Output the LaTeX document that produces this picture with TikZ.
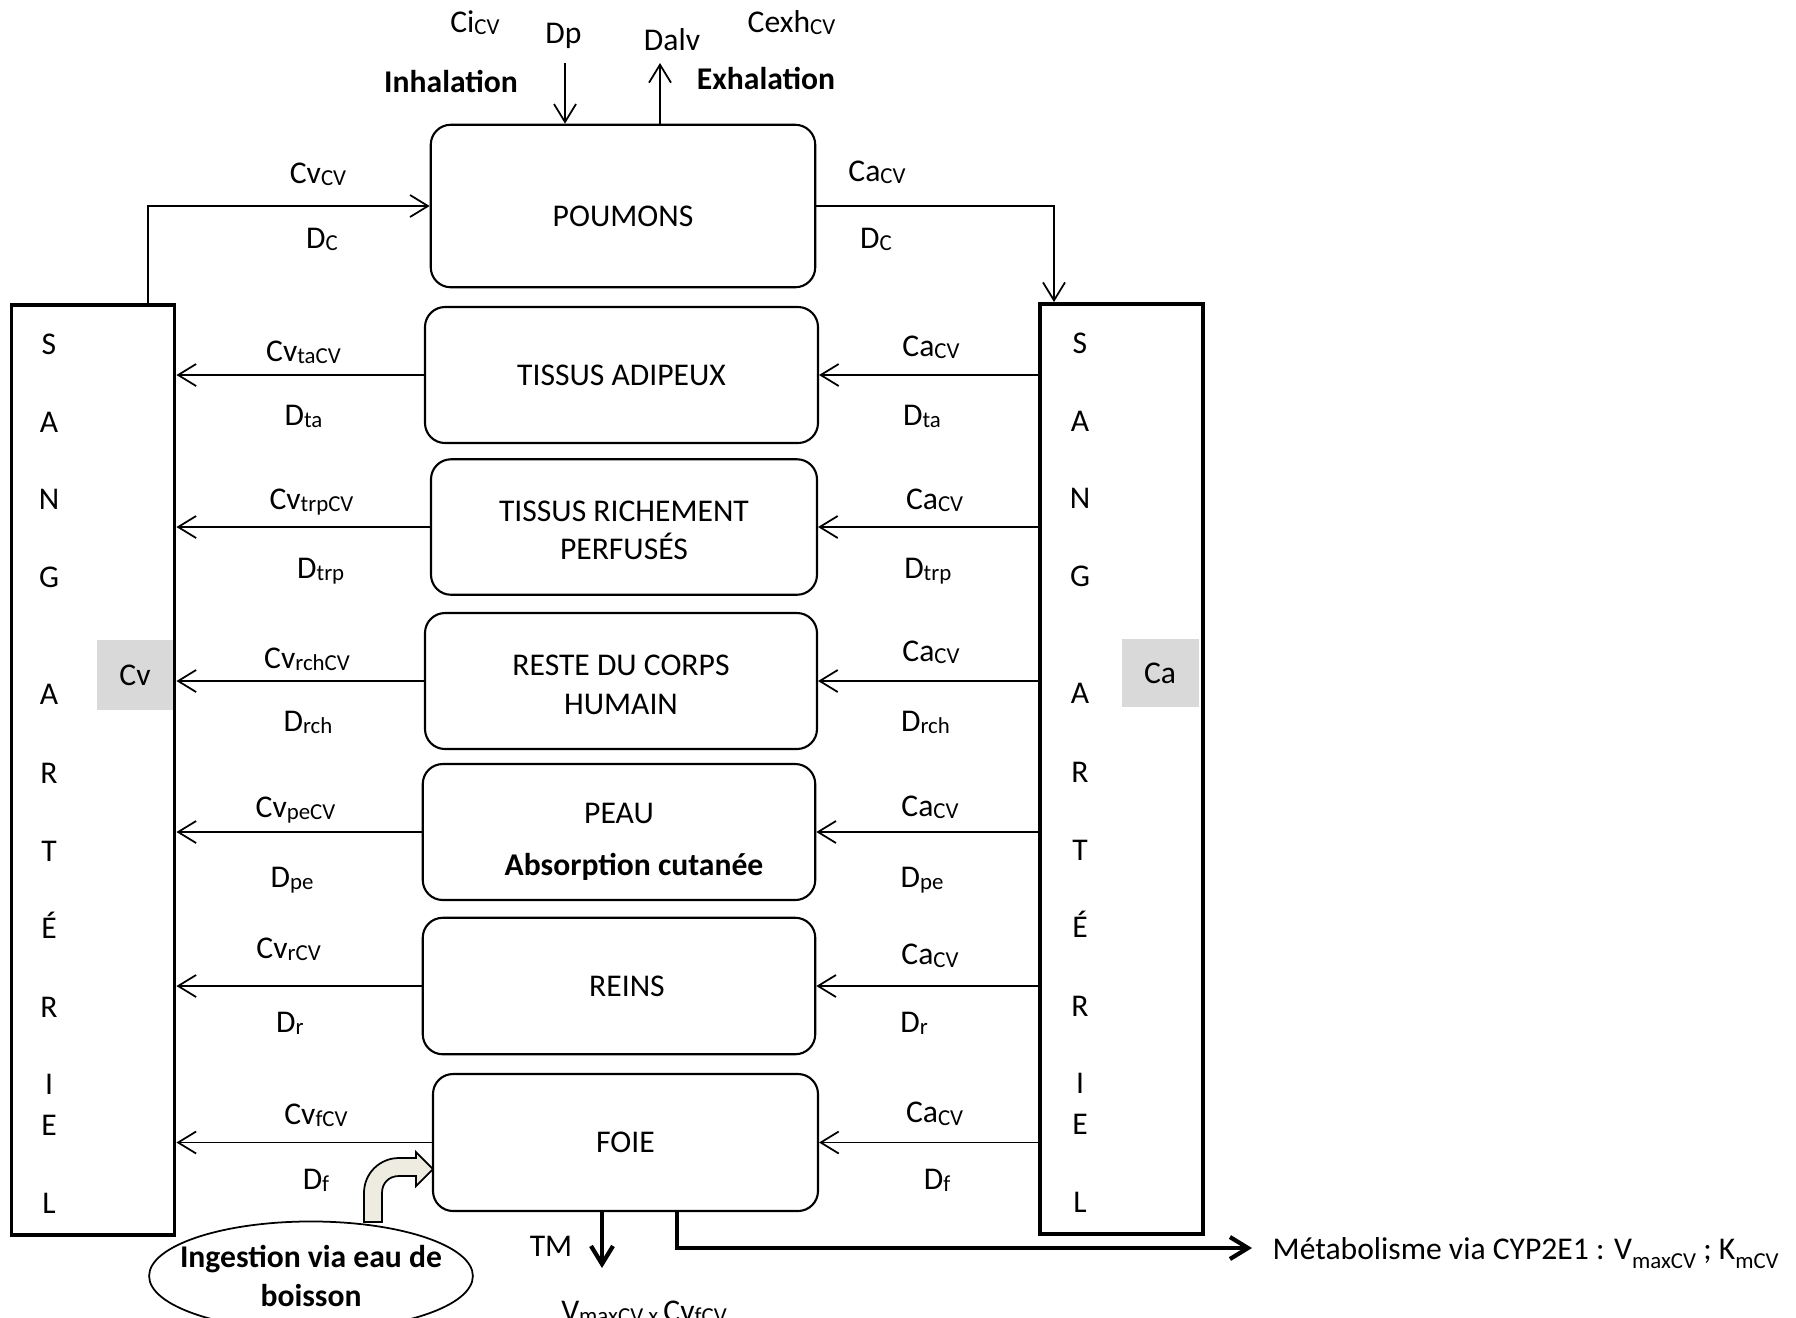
\documentclass[tikz,border=0pt]{standalone}
\usepackage{fontspec}
\setmainfont{Carlito}
\usepackage{tikz}
\usetikzlibrary{positioning,calc,arrows.meta,shapes.geometric}
\usepackage{xcolor}
\definecolor{cellgray}{HTML}{D9D9D9}
\definecolor{pipefill}{HTML}{EEECE1}
\newcommand{\ssub}[1]{\raisebox{-0.6pt}{\fontsize{6.5}{7}\selectfont #1}}
\newcommand{\lsub}[1]{\raisebox{-2.8pt}{\fontsize{6.5}{7}\selectfont #1}}

\begin{document}
\begin{tikzpicture}[x=0.1mm,y=-0.1mm,font=\fontsize{9}{11}\selectfont,
  >={Straight Barb[length=1.8mm,width=2.2mm]},
  organ/.style={draw,rounded corners=2mm,line width=0.6pt,align=center,inner sep=0pt},
  blood/.style={draw,line width=1.1pt,inner sep=0pt,minimum width=16.3mm,minimum height=93mm},
  flow/.style={->,line width=0.5pt},
  heavy/.style={->,line width=1.2pt},
  lbl/.style={inner sep=0pt,text height=1.4ex,text depth=0.25ex},
  bold/.style={lbl,font=\fontsize{9}{11}\selectfont\bfseries}]
\useasboundingbox (0,0) rectangle (1796,1317);

% compartiments sanguins
\node[blood] (sangv) at (93,770) {};
\node[blood] (sanga) at (1121.5,769) {};
\foreach \l/\y [count=\i] in {S/345,A/423,N/500,G/578,A/695,R/774,T/852,É/929,R/1008,I/1085,E/1126,L/1204}{
  \node[lbl] (lv\i) at (49,\y) {\l};
  \node[lbl] (la\i) at (1080,\y-1.5) {\l};
}
\node[fill=cellgray,minimum width=7.6mm,minimum height=7mm] (cv) at (135,675) {Cv};
\node[fill=cellgray,minimum width=7.7mm,minimum height=6.8mm] (ca) at (1160,673) {Ca};

% organes
\node[organ,minimum width=38.45mm,minimum height=16.25mm] (poumons) at (623,206) {\rule{0pt}{4.1mm}POUMONS};
\node[organ,minimum width=39.3mm,minimum height=13.6mm] (adip) at (621.5,375) {TISSUS ADIPEUX};
\node[organ,minimum width=38.6mm,minimum height=13.55mm] (trp) at (624,527) {\rule{0pt}{2.75mm}TISSUS RICHEMENT\\PERFUSÉS};
\node[organ,minimum width=39.2mm,minimum height=13.6mm] (rch) at (621,681) {\rule{0pt}{2.85mm}RESTE DU CORPS\\HUMAIN};
\node[organ,minimum width=39.25mm,minimum height=13.6mm] (peau) at (619,832)
  {\rule{0pt}{4.05mm}PEAU\\[3.7pt]\hspace*{3mm}\textbf{Absorption cutanée}};
\node[organ,minimum width=39.25mm,minimum height=13.65mm] (reins) at (619,986) {\hspace*{1.6mm}REINS};
\node[organ,minimum width=38.5mm,minimum height=13.7mm] (foie) at (625.5,1142.5) {FOIE};

% poumons
\draw[flow] ([xshift=5.5mm]sangv.north) |- (poumons.west);
\draw[flow] (poumons.east) -| ([xshift=-6.75mm]sanga.north);
\node[lbl] (cvcv) at (318,174) {Cv\ssub{CV}};
\node[lbl] (dcv) at (322,239) {D\ssub{C}};
\node[lbl] (cacv) at (877,172) {Ca\ssub{CV}};
\node[lbl] (dca) at (876,239) {D\ssub{C}};

% inhalation / exhalation
\node[lbl] (ci) at (475,23) {Ci\ssub{CV}};
\node[lbl] (dp) at (563.5,34) {Dp};
\node[lbl] (dalv) at (672,41) {Dalv};
\node[lbl] (cexh) at (791.5,23) {Cexh\ssub{CV}};
\node[bold] (inh) at (451,82.5) {Inhalation};
\node[bold] (exh) at (766,80) {Exhalation};
\coordinate (dpin) at (565,63);
\coordinate (dalvout) at (660,63);
\draw[flow] (dpin) -- (dpin |- poumons.north);
\draw[flow] (dalvout |- poumons.north) -- (dalvout);

% flux organes <-> sang
\foreach \o in {adip,trp,rch,peau,reins,foie}{
  \draw[flow] (\o.west) -- (sangv.east |- \o.west);
  \draw[flow] (sanga.west |- \o.east) -- (\o.east);
}
\foreach \o/\s/\xa/\ya/\xb/\yb/\xc/\yc/\xd/\yd in {
    adip/ta/303.5/352/303.5/416/931/347/922/416,
    trp/trp/311.5/500/320.7/569/934.6/500/927.8/569,
    rch/rch/307/658.6/308/721.6/931/651.7/925.5/721.6,
    peau/pe/295.5/807.5/292/877.4/930/806.4/922/877.4,
    reins/r/288.6/948.4/289.8/1022.8/930/955.3/914/1022.8,
    foie/f/316/1114.5/316/1179.8/934.6/1113.3/937/1179.8}{
  \node[lbl] (cv-\o) at (\xa,\ya) {Cv\ssub{\s CV}};
  \node[lbl] (dv-\o) at (\xb,\yb) {D\ssub{\s}};
  \node[lbl] (ca-\o) at (\xc,\yc) {Ca\ssub{CV}};
  \node[lbl] (da-\o) at (\xd,\yd) {D\ssub{\s}};
}

% ingestion
\node[draw,ellipse,line width=0.5pt,inner xsep=-1.65mm,inner ysep=0.8mm,
  align=center,font=\fontsize{9}{11}\selectfont\bfseries] (ingestion) at (311,1276) {Ingestion via eau de\\boisson};
\draw[fill=pipefill,line width=0.5pt] (364,1222) -- (364,1193) .. controls (364,1173) and (380,1158) .. (399,1158)
  -- (416,1158) -- (416,1152) -- (433,1169) -- (416,1186) -- (416,1176) -- (399,1176)
  .. controls (389,1176) and (382,1183) .. (382,1193) -- (382,1222) -- cycle;

% metabolisme
\node[lbl] (tm) at (551,1247) {TM};
\coordinate (tmend) at (602,1268);
\draw[heavy] (tmend |- foie.south) -- (tmend);
\node[anchor=north,inner sep=0pt] (vmax) at (644,1300) {V\ssub{maxCV x }Cv\ssub{fCV}};
\node[anchor=base west,inner sep=0pt] (metab) at (1272,1259) {Métabolisme via CYP2E1 : V\lsub{maxCV} ; K\lsub{mCV}};
\coordinate (mturn) at (677,1248);
\coordinate (mend) at (1252,1248);
\draw[heavy] (mturn |- foie.south) -- (mturn) -- (mend);
\end{tikzpicture}
\end{document}
